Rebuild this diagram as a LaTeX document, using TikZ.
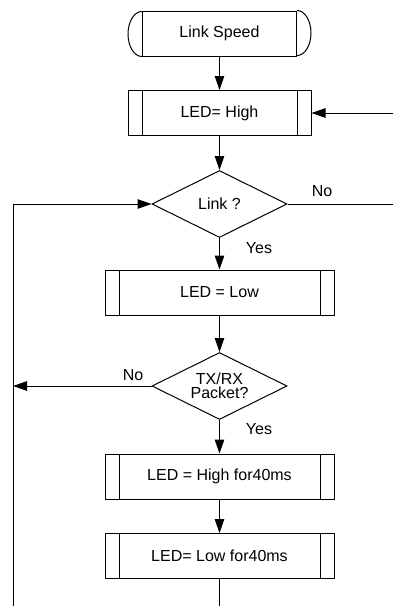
\documentclass[tikz,border=0pt]{standalone}
\usepackage{fontspec}
\setmainfont{Liberation Sans}
\usetikzlibrary{arrows.meta,positioning,shapes.geometric}
\tikzset{
  proc/.style={draw, line width=1pt, minimum height=45pt, inner sep=0pt, font=\fontsize{16}{18}\selectfont,
    path picture={
      \draw[line width=1pt] ([xshift=14pt]path picture bounding box.north west) -- ([xshift=14pt]path picture bounding box.south west);
      \draw[line width=1pt] ([xshift=-14pt]path picture bounding box.north east) -- ([xshift=-14pt]path picture bounding box.south east);
    }},
  term/.style={draw, line width=1pt, minimum height=45pt, inner sep=0pt, font=\fontsize{16}{18}\selectfont},
  decide/.style={draw, diamond, aspect=2, line width=1pt, minimum width=135pt, minimum height=67pt, inner sep=0pt, align=center, font=\fontsize{16}{14.5}\selectfont},
  arrow/.style={-{Triangle[length=14pt,width=9.5pt]}, line width=1pt},
  line/.style={line width=1pt},
  lbl/.style={font=\fontsize{16}{18}\selectfont}
}

\begin{document}
\begin{tikzpicture}[x=1pt,y=-1pt]
  \useasboundingbox (0,0) rectangle (393,606);

  \node[term, minimum width=154pt] (start) at (219.5,33.5) {Link Speed};
  \draw[line] (start.north east) arc[start angle=90, end angle=-90, x radius=14pt, y radius=22.5pt];
  \draw[line] (start.south west) arc[start angle=270, end angle=90, x radius=14pt, y radius=22.5pt];

  \node[proc, minimum width=183pt] (high) at (219.5,113) {LED= High};
  \node[decide] (link) at (219.5,204) {Link ?};
  \node[decide] (pkt) at (219.5,386) {TX/RX\\Packet?};
  \node[proc, minimum width=229pt] (low) at (219.5,292.5) {LED = Low};
  \node[proc, minimum width=229pt] (high40) at (219.5,476.5) {LED = High for40ms};
  \node[proc, minimum width=229pt] (low40) at (219.5,556) {LED= Low for40ms};

  \coordinate (rtop) at (393,113);
  \coordinate (rmid) at (393,204);
  \coordinate (ltop) at (13,204);
  \coordinate (lmid) at (13,386);
  \coordinate (lbot) at (13,606);
  \coordinate (bot) at (219.5,606);

  \node[lbl] (no1) at (322,191) {No};
  \node[lbl] (yes1) at (259,248) {Yes};
  \node[lbl] (no2) at (133,375) {No};
  \node[lbl] (yes2) at (259,429) {Yes};

  \draw[arrow] (start) -- (high);
  \draw[arrow] (rtop) -- (high.east);
  \draw[arrow] (high) -- (link);
  \draw[line] (link.east) -- (rmid);
  \draw[arrow] (link) -- (low);
  \draw[arrow] (low) -- (pkt);
  \draw[arrow] (pkt.west) -- (lmid);
  \draw[arrow] (pkt) -- (high40);
  \draw[arrow] (high40) -- (low40);
  \draw[line] (low40) -- (bot);
  \draw[arrow] (lbot) -- (ltop) -- (link.west);
\end{tikzpicture}
\end{document}
